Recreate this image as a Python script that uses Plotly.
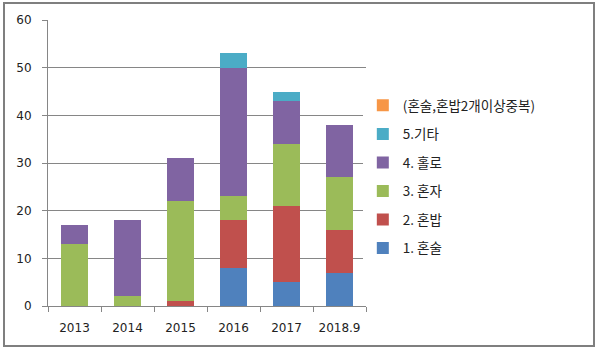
import plotly.graph_objects as go

categories = ["2013", "2014", "2015", "2016", "2017", "2018.9"]
s1_honsul = [0, 0, 0, 8, 5, 7]
s2_honbap = [0, 0, 1, 10, 16, 9]
s3_honja = [13, 2, 21, 5, 13, 11]
s4_hollo = [4, 16, 9, 27, 9, 11]
s5_etc = [0, 0, 0, 3, 2, 0]
s6_dup = [0, 0, 0, 0, 0, 0]

series = [
    ("1. 혼술", s1_honsul, "#4F81BD"),
    ("2. 혼밥", s2_honbap, "#C0504D"),
    ("3. 혼자", s3_honja, "#9BBB59"),
    ("4. 홀로", s4_hollo, "#8064A2"),
    ("5.기타", s5_etc, "#4BACC6"),
    ("(혼술,혼밥2개이상중복)", s6_dup, "#F79646"),
]

fig = go.Figure()
for i, (name, vals, color) in enumerate(series):
    fig.add_trace(go.Bar(x=categories, y=vals, name=name, marker_color=color,
                         marker_line_width=0, legendgroup=f"g{i}",
                         legendrank=100 * (len(series) - i)))

tick_font = dict(family="DejaVu Sans", size=12, color="#222222")
fig.update_layout(
    barmode="stack",
    bargap=0.48,
    width=600, height=351,
    margin=dict(l=48, r=234, t=20, b=45, autoexpand=False),
    paper_bgcolor="white", plot_bgcolor="white",
    legend=dict(x=0.99, y=0.755, xanchor="left", yanchor="top",
                traceorder="grouped", tracegroupgap=8,
                font=dict(family="Noto Sans CJK KR", size=13.5, color="#222222"),
                itemwidth=30),
    xaxis=dict(type="category", showline=True, linecolor="#868686", linewidth=1,
               ticks="outside", tickson="boundaries", ticklen=5, tickcolor="#868686",
               tickfont=tick_font, showgrid=False, ticklabelstandoff=11, automargin=False),
    yaxis=dict(range=[0, 60], dtick=10, showline=True, linecolor="#868686", linewidth=1,
               ticks="outside", ticklen=5, tickcolor="#868686",
               gridcolor="#868686", gridwidth=1, tickfont=tick_font, zeroline=False,
               ticklabelstandoff=8, automargin=False),
    shapes=[dict(type="rect", xref="paper", yref="paper",
                 x0=-44/318, x1=546/318, y0=-40/286, y1=(306-3)/286,
                 line=dict(color="#7f7f7f", width=2))],
)
fig.write_html("out.html")
